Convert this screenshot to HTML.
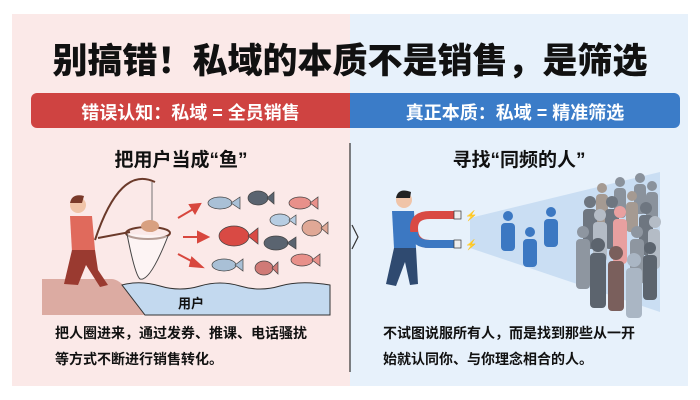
<!DOCTYPE html>
<html><head><meta charset="utf-8"><style>
body{margin:0;width:700px;height:400px;background:#fff;overflow:hidden;font-family:"Liberation Sans","Noto Sans CJK SC",sans-serif;}
.t{position:absolute;white-space:nowrap;font-weight:bold;}
</style></head><body>
<div style="position:absolute;left:12px;top:14px;width:338px;height:372px;background:#fbe9e8"></div>
<div style="position:absolute;left:350px;top:14px;width:338px;height:372px;background:#e7f1fb"></div>
<div class="t" style="left:0;width:700px;text-align:center;top:33px;font-size:35px;color:#111;font-weight:900">别搞错！私域的本质不是销售，是筛选</div>
<div style="position:absolute;left:31px;top:93px;width:319px;height:35px;background:#cf4341;border-radius:6px 0 0 6px"></div>
<div style="position:absolute;left:350px;top:93px;width:330px;height:35px;background:#3b7cc8;border-radius:0 6px 6px 0"></div>
<div class="t" style="left:31px;width:319px;text-align:center;top:99px;font-size:18px;color:#fff">错误认知：私域 = 全员销售</div>
<div class="t" style="left:350px;width:330px;text-align:center;top:99px;font-size:18px;color:#fff">真正本质：私域 = 精准筛选</div>
<div class="t" style="left:12px;width:338px;text-align:center;top:145px;font-size:19px;color:#111">把用户当成“鱼”</div>
<div class="t" style="left:350px;width:338px;text-align:center;top:145px;font-size:19px;color:#111">寻找“同频的人”</div>
<svg style="position:absolute;left:0;top:0" width="700" height="400">
<line x1="350" y1="143" x2="350" y2="372" stroke="#333" stroke-width="1.2"/>
<polyline points="352,225 358,237 352,249" fill="none" stroke="#333" stroke-width="1.2"/>
<path d="M42,279 L112,279 Q125,280 145,315 L42,315Z" fill="#dcaba2"/>
<path d="M122,285 Q140,280 160,286 T200,286 T240,286 T280,286 T330,285 L330,315 L145,315Z" fill="#c3d9ef" stroke="#333" stroke-width="1"/>
<circle cx="78" cy="205" r="8" fill="#f0c4a8"/><path d="M70,203 Q72,193 84,196 L82,203Z" fill="#7a3a2a"/>
<path d="M70,216 L92,216 L95,250 L72,252Z" fill="#e06a5c"/>
<path d="M72,250 L95,250 L98,270 L108,285 L100,287 L86,265 L78,285 L64,284Z" fill="#9a3a30"/>
<path d="M95,240 Q120,165 155,182" fill="none" stroke="#6b3a2a" stroke-width="2"/>
<line x1="152" y1="182" x2="152" y2="232" stroke="#555" stroke-width="0.8"/>
<line x1="98" y1="238" x2="130" y2="232" stroke="#6b3a2a" stroke-width="2"/>
<ellipse cx="148" cy="233" rx="22" ry="6" fill="none" stroke="#6b3a2a" stroke-width="2"/>
<path d="M127,234 Q135,275 140,279 Q150,282 168,236" fill="#fff" fill-opacity="0.5" stroke="#444" stroke-width="1"/>
<ellipse cx="150" cy="226" rx="9" ry="6" fill="#d8a080"/>
<g fill="#d8473e" stroke="#d8473e" stroke-width="2">
<line x1="178" y1="218" x2="195" y2="208"/><polygon points="200,204 190,205 195,213"/>
<line x1="183" y1="237" x2="200" y2="237"/><polygon points="208,237 198,232 198,242"/>
<line x1="178" y1="254" x2="195" y2="263"/><polygon points="202,267 192,258 190,266"/>
</g>
<g stroke="#444" stroke-width="0.7">
<ellipse cx="220" cy="203" rx="12" ry="6" fill="#a9c0d6"/><polygon points="231,203 240,197 240,209" fill="#a9c0d6"/>
<ellipse cx="258" cy="198" rx="10" ry="7" fill="#5a6470"/><polygon points="267,198 274,192 274,204" fill="#5a6470"/>
<ellipse cx="300" cy="203" rx="11" ry="6" fill="#e8908a"/><polygon points="310,203 318,197 318,209" fill="#e8908a"/>
<ellipse cx="234" cy="236" rx="15" ry="10" fill="#d94a44"/><polygon points="248,236 258,228 258,244" fill="#d94a44"/>
<ellipse cx="280" cy="220" rx="10" ry="6" fill="#b7cde2"/><polygon points="289,220 296,215 296,225" fill="#b7cde2"/>
<ellipse cx="312" cy="228" rx="10" ry="8" fill="#e0a896"/><polygon points="321,228 328,222 328,234" fill="#e0a896"/>
<ellipse cx="276" cy="243" rx="12" ry="7" fill="#5a6470"/><polygon points="287,243 296,237 296,249" fill="#5a6470"/>
<ellipse cx="224" cy="265" rx="12" ry="6" fill="#a9c0d6"/><polygon points="235,265 243,259 243,271" fill="#a9c0d6"/>
<ellipse cx="264" cy="268" rx="9" ry="7" fill="#d07a76"/><polygon points="272,268 278,262 278,274" fill="#d07a76"/>
<ellipse cx="302" cy="260" rx="11" ry="6" fill="#e8908a"/><polygon points="312,260 320,254 320,266" fill="#e8908a"/>
</g>
<polygon points="470,218 660,172 660,312 470,248" fill="#b8d2ee" opacity="0.6"/>
<g id="p"></g>
<g>
<!-- crowd: rows of figures -->
<g fill="#8a929c"><circle cx="620" cy="182" r="5"/><rect x="614" y="188" width="12" height="30" rx="4"/>
<circle cx="640" cy="178" r="5"/><rect x="634" y="184" width="12" height="30" rx="4"/>
<circle cx="652" cy="186" r="5"/><rect x="646" y="192" width="12" height="30" rx="4"/></g>
<g fill="#a59a92"><circle cx="602" cy="188" r="5"/><rect x="596" y="194" width="12" height="30" rx="4"/>
<circle cx="632" cy="196" r="5"/><rect x="626" y="202" width="12" height="30" rx="4"/></g>
<g fill="#6e7680"><circle cx="590" cy="202" r="6"/><rect x="583" y="209" width="14" height="40" rx="4"/>
<circle cx="646" cy="208" r="6"/><rect x="639" y="215" width="14" height="40" rx="4"/>
<circle cx="612" cy="202" r="6"/><rect x="605" y="209" width="14" height="40" rx="4"/></g>
<g fill="#b4bcc6"><circle cx="600" cy="215" r="6"/><rect x="593" y="222" width="14" height="40" rx="4"/>
<circle cx="655" cy="222" r="6"/><rect x="648" y="229" width="12" height="40" rx="4"/></g>
<g fill="#e8a0a0"><circle cx="620" cy="212" r="6"/><rect x="613" y="219" width="14" height="45" rx="4"/></g>
<g fill="#8e96a0"><circle cx="583" cy="232" r="6"/><rect x="576" y="239" width="14" height="50" rx="4"/>
<circle cx="637" cy="232" r="6"/><rect x="630" y="239" width="14" height="45" rx="4"/></g>
<g fill="#5c646e"><circle cx="598" cy="245" r="7"/><rect x="590" y="253" width="16" height="55" rx="4"/>
<circle cx="650" cy="248" r="6"/><rect x="643" y="255" width="14" height="45" rx="4"/></g>
<g fill="#7a5f5c"><circle cx="616" cy="253" r="7"/><rect x="608" y="261" width="16" height="50" rx="4"/></g>
<g fill="#aab6c4"><circle cx="634" cy="260" r="7"/><rect x="626" y="268" width="16" height="50" rx="4"/></g>
</g>
<g fill="#3c78c2">
<circle cx="508" cy="216" r="5"/><rect x="501" y="223" width="14" height="28" rx="4"/>
<circle cx="530" cy="232" r="5"/><rect x="523" y="239" width="14" height="28" rx="4"/>
<circle cx="551" cy="212" r="5"/><rect x="544" y="219" width="14" height="28" rx="4"/>
</g>
<circle cx="404" cy="200" r="8" fill="#f0c4a8"/><path d="M396,198 Q398,187 411,192 L410,198Z" fill="#222"/>
<path d="M392,211 L414,211 L416,248 L394,248Z" fill="#3c78c2"/>
<path d="M394,248 L416,248 L418,284 L410,285 L405,262 L396,286 L386,284Z" fill="#2f4a70"/>
<path d="M460,215 L430,215 Q414,215 414,228 Q414,244 430,244 L460,244" fill="none" stroke="#d94a44" stroke-width="8"/>
<path d="M414,232 Q414,244 430,244 L460,244" fill="none" stroke="#3c78c2" stroke-width="8"/>
<rect x="454" y="211" width="7" height="8" fill="#eee" stroke="#333" stroke-width="0.7"/>
<rect x="454" y="240" width="7" height="8" fill="#eee" stroke="#333" stroke-width="0.7"/>
<text x="465" y="219" font-size="10" fill="#d4a020">⚡</text><text x="465" y="248" font-size="10" fill="#d4a020">⚡</text>
</svg>
<div class="t" style="left:178px;top:293px;font-size:13px;color:#111">用户</div>
<div class="t" style="left:55px;top:320px;font-size:14px;line-height:26px;color:#111">把人圈进来，通过发券、推课、电话骚扰<br>等方式不断进行销售转化。</div>
<div class="t" style="left:383px;top:320px;font-size:14px;line-height:26px;color:#111">不试图说服所有人，而是找到那些从一开<br>始就认同你、与你理念相合的人。</div>
</body></html>
